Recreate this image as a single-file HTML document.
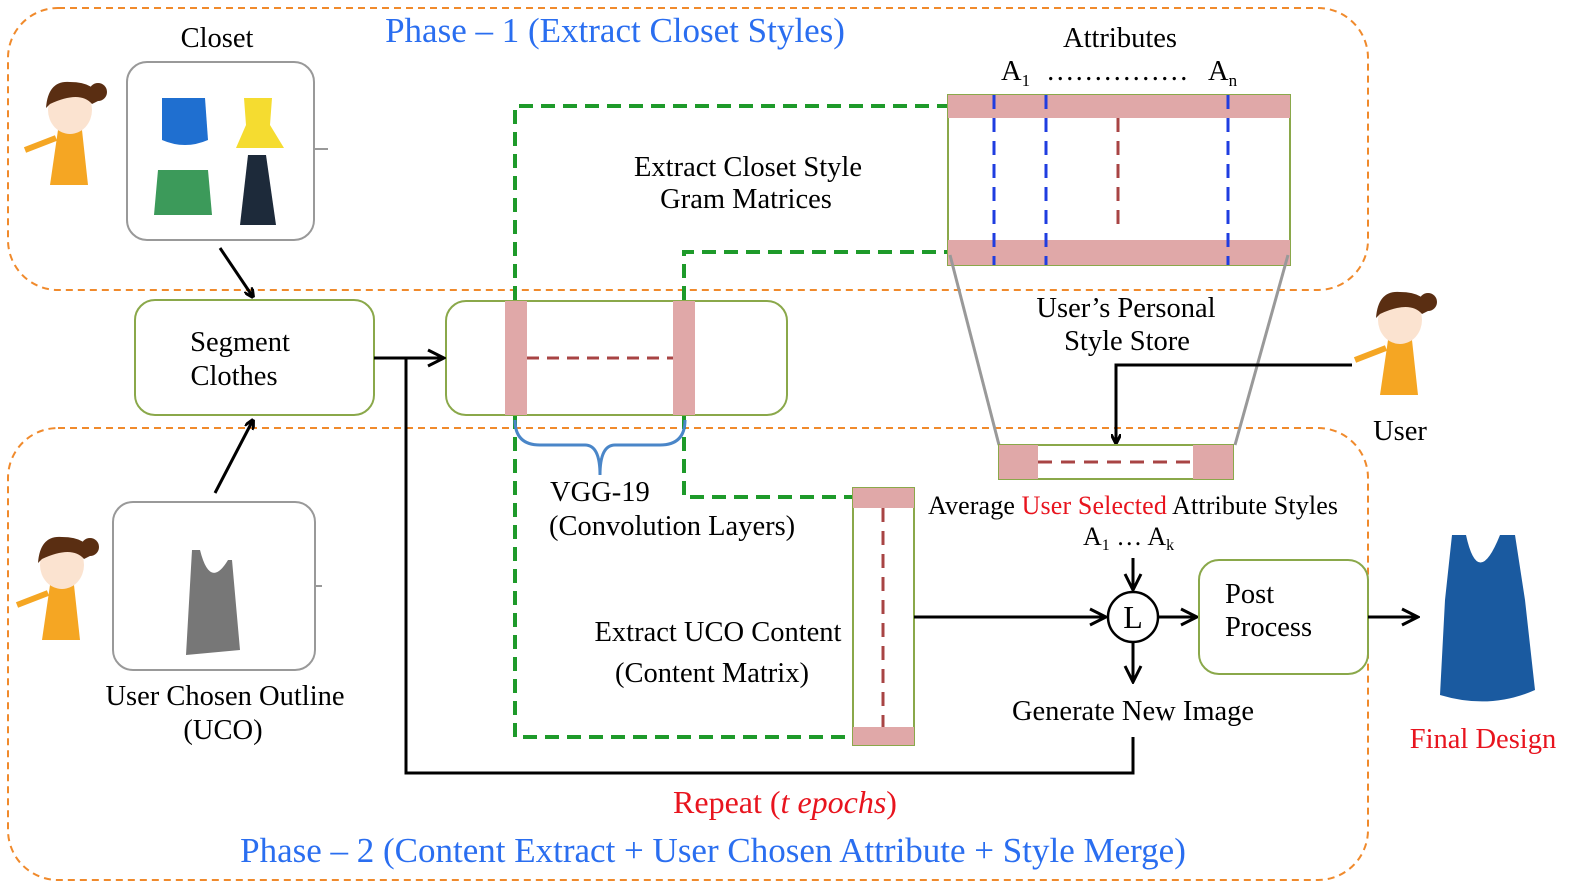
<!DOCTYPE html><html><head><style>body{margin:0;background:#fff}svg{display:block}text{font-family:"Liberation Serif",serif}</style></head><body>
<svg width="1584" height="894" viewBox="0 0 1584 894" xmlns="http://www.w3.org/2000/svg">
<defs><marker id="ar" markerWidth="10" markerHeight="10" refX="9" refY="5" orient="auto" markerUnits="userSpaceOnUse"><path d="M0,0 L10,5 L0,10" fill="none" stroke="#000" stroke-width="3"/></marker>
<marker id="ab" markerWidth="20" markerHeight="20" refX="18" refY="10" orient="auto" markerUnits="userSpaceOnUse"><path d="M2,2 L18,10 L2,18" fill="none" stroke="#000" stroke-width="3"/></marker>
<g id="girl"><path d="M-12,20 L12,20 L18,75 L-20,75Z" fill="#f5a623"/><path d="M-14,28 L-45,40" stroke="#f5a623" stroke-width="6"/><ellipse cx="0" cy="0" rx="22" ry="24" fill="#fbe3d0"/><path d="M-24,-2 Q-22,-30 0,-28 Q26,-28 30,-10 L22,-6 Q10,-20 -20,-6Z" fill="#5a2e12"/><circle cx="28" cy="-18" r="9" fill="#5a2e12"/></g></defs>
<rect x="8" y="8" width="1360" height="282" rx="50" fill="none" stroke="#f08a2c" stroke-width="2" stroke-dasharray="7,5"/>
<rect x="8" y="428" width="1360" height="452" rx="50" fill="none" stroke="#f08a2c" stroke-width="2" stroke-dasharray="7,5"/>
<text x="615" y="42" font-size="35" fill="#2a6ef0" text-anchor="middle">Phase – 1 (Extract Closet Styles)</text>
<text x="713" y="862" font-size="35" fill="#2a6ef0" text-anchor="middle">Phase – 2 (Content Extract + User Chosen Attribute + Style Merge)</text>
<text x="217" y="47" font-size="28.5" text-anchor="middle">Closet</text>
<rect x="127" y="62" width="187" height="178" rx="20" fill="#fff" stroke="#999" stroke-width="2"/>
<line x1="314" y1="149" x2="328" y2="149" stroke="#999" stroke-width="2"/>
<path d="M162,98 L205,98 L208,140 Q185,150 162,140Z" fill="#1f6fd0"/>
<path d="M244,98 L272,98 L270,125 L284,148 L236,148 L246,125Z" fill="#f5dc30"/>
<path d="M158,170 L208,170 L212,215 L154,215Z" fill="#3c9a5a"/>
<path d="M248,155 L266,155 L276,225 L240,225Z" fill="#1d2a3a"/>
<use href="#girl" x="70" y="110"/>
<rect x="135" y="300" width="239" height="115" rx="20" fill="#fff" stroke="#8aa84a" stroke-width="2"/>
<text x="240" y="351" font-size="28.5" text-anchor="middle">Segment</text>
<text x="234" y="385" font-size="28.5" text-anchor="middle">Clothes</text>
<line x1="220" y1="248" x2="253" y2="297" stroke="#000" stroke-width="3" marker-end="url(#ar)"/>
<line x1="215" y1="493" x2="253" y2="420" stroke="#000" stroke-width="3" marker-end="url(#ar)"/>
<rect x="113" y="502" width="202" height="168" rx="20" fill="#fff" stroke="#999" stroke-width="2"/>
<line x1="315" y1="586" x2="322" y2="586" stroke="#999" stroke-width="2"/>
<path d="M192,550 L200,550 Q210,590 228,560 L232,560 L240,650 L186,655 Z" fill="#777"/>
<use href="#girl" x="62" y="565"/>
<text x="225" y="705" font-size="28.5" text-anchor="middle">User Chosen Outline</text>
<text x="223" y="739" font-size="28.5" text-anchor="middle">(UCO)</text>
<g fill="none" stroke="#1e9a2a" stroke-width="4" stroke-dasharray="14,8">
<polyline points="515,300 515,106 948,106"/><polyline points="684,300 684,252 948,252"/>
<polyline points="515,415 515,737 853,737"/><polyline points="684,415 684,497 853,497"/></g>
<rect x="446" y="301" width="341" height="114" rx="20" fill="#fff" stroke="#8aa84a" stroke-width="2"/>
<rect x="505" y="301" width="22" height="114" fill="#e0a8a8"/><rect x="673" y="301" width="22" height="114" fill="#e0a8a8"/>
<line x1="527" y1="358" x2="673" y2="358" stroke="#a84444" stroke-width="3" stroke-dasharray="12,8"/>
<path d="M515,420 Q515,445 540,445 L585,445 Q600,445 600,475 Q600,445 615,445 L660,445 Q685,445 685,420" fill="none" stroke="#4a86c8" stroke-width="3"/>
<text x="550" y="501" font-size="28.5">VGG-19</text>
<text x="549" y="535" font-size="28.5">(Convolution Layers)</text>
<text x="748" y="176" font-size="28.5" text-anchor="middle">Extract Closet Style</text>
<text x="746" y="208" font-size="28.5" text-anchor="middle">Gram Matrices</text>
<text x="1120" y="47" font-size="28.5" text-anchor="middle">Attributes</text>
<text x="1001" y="80" font-size="28.5">A<tspan font-size="17" dy="6">1</tspan></text>
<text x="1046" y="80" font-size="28.5">……………</text>
<text x="1208" y="80" font-size="28.5">A<tspan font-size="17" dy="6">n</tspan></text>
<rect x="948" y="95" width="342" height="170" fill="#fff" stroke="#8aa84a" stroke-width="2"/>
<rect x="948" y="95" width="342" height="23" fill="#e0a8a8"/><rect x="948" y="240" width="342" height="25" fill="#e0a8a8"/>
<g stroke="#1f3de0" stroke-width="3" stroke-dasharray="14,9"><line x1="994" y1="95" x2="994" y2="265"/><line x1="1046" y1="95" x2="1046" y2="265"/><line x1="1228" y1="95" x2="1228" y2="265"/></g>
<line x1="1118" y1="118" x2="1118" y2="230" stroke="#a84444" stroke-width="3" stroke-dasharray="14,9"/>
<line x1="950" y1="255" x2="999" y2="445" stroke="#999" stroke-width="3"/><line x1="1288" y1="255" x2="1235" y2="445" stroke="#999" stroke-width="3"/>
<text x="1126" y="317" font-size="28.5" text-anchor="middle">User’s Personal</text>
<text x="1127" y="350" font-size="28.5" text-anchor="middle">Style Store</text>
<use href="#girl" x="1400" y="320"/>
<text x="1400" y="440" font-size="28.5" text-anchor="middle">User</text>
<polyline points="1352,365 1116,365 1116,443" fill="none" stroke="#000" stroke-width="3" marker-end="url(#ar)"/>
<rect x="999" y="445" width="234" height="34" fill="#fff" stroke="#8aa84a" stroke-width="2"/>
<rect x="999" y="445" width="39" height="34" fill="#e0a8a8"/><rect x="1193" y="445" width="40" height="34" fill="#e0a8a8"/>
<line x1="1038" y1="462" x2="1193" y2="462" stroke="#a84444" stroke-width="3" stroke-dasharray="14,9"/>
<text x="928" y="514" font-size="26" textLength="410">Average <tspan fill="#e8141e">User Selected</tspan> Attribute Styles</text>
<text x="1083" y="545" font-size="26">A<tspan font-size="16" dy="5">1</tspan><tspan dy="-5"> … A</tspan><tspan font-size="16" dy="5">k</tspan></text>
<rect x="853" y="488" width="61" height="257" fill="#fff" stroke="#8aa84a" stroke-width="2"/>
<rect x="853" y="488" width="61" height="20" fill="#e0a8a8"/><rect x="853" y="727" width="61" height="18" fill="#e0a8a8"/>
<line x1="883" y1="508" x2="883" y2="727" stroke="#a84444" stroke-width="3" stroke-dasharray="14,9"/>
<text x="718" y="641" font-size="28.5" text-anchor="middle">Extract UCO Content</text>
<text x="712" y="682" font-size="28.5" text-anchor="middle">(Content Matrix)</text>
<line x1="914" y1="617" x2="1106" y2="617" stroke="#000" stroke-width="3" marker-end="url(#ab)"/>
<circle cx="1133" cy="617" r="25" fill="#fff" stroke="#000" stroke-width="2.5"/>
<text x="1133" y="628" font-size="32" text-anchor="middle">L</text>
<line x1="1133" y1="558" x2="1133" y2="590" stroke="#000" stroke-width="3" marker-end="url(#ab)"/>
<line x1="1158" y1="617" x2="1197" y2="617" stroke="#000" stroke-width="3" marker-end="url(#ab)"/>
<line x1="1133" y1="642" x2="1133" y2="682" stroke="#000" stroke-width="3" marker-end="url(#ab)"/>
<rect x="1199" y="560" width="169" height="114" rx="20" fill="#fff" stroke="#8aa84a" stroke-width="2"/>
<text x="1225" y="603" font-size="28.5">Post</text><text x="1225" y="636" font-size="28.5">Process</text>
<line x1="1368" y1="617" x2="1418" y2="617" stroke="#000" stroke-width="3" marker-end="url(#ab)"/>
<path d="M1452,535 L1466,535 Q1478,590 1500,535 L1515,535 L1525,600 L1535,690 Q1490,710 1440,695 L1445,600Z" fill="#1a5aa0"/>
<text x="1483" y="748" font-size="28.5" fill="#e8141e" text-anchor="middle">Final Design</text>
<text x="1133" y="720" font-size="28.5" text-anchor="middle">Generate New Image</text>
<polyline points="1133,737 1133,773 406,773 406,358" fill="none" stroke="#000" stroke-width="3"/>
<line x1="374" y1="358" x2="444" y2="358" stroke="#000" stroke-width="3" marker-end="url(#ab)"/>
<text x="785" y="813" font-size="32" fill="#e8141e" text-anchor="middle">Repeat (<tspan font-style="italic">t epochs</tspan>)</text>
</svg></body></html>
